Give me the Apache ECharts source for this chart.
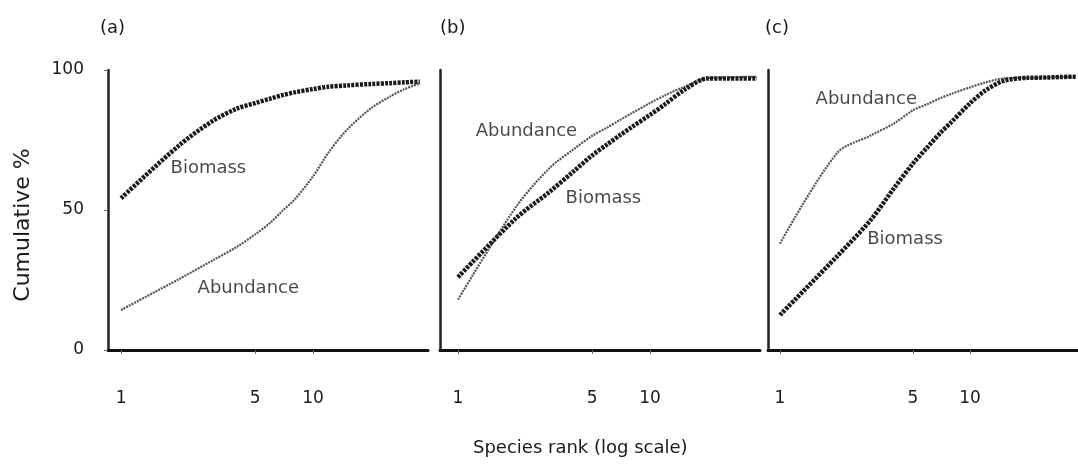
<!DOCTYPE html>
<html><head><meta charset="utf-8">
<script src="https://cdn.jsdelivr.net/npm/echarts@6/dist/echarts.min.js"></script>
<style>html,body{margin:0;padding:0;background:#fff}#c{width:1078px;height:464px}</style>
</head><body><div id="c"></div>
<script>
// Species rank (shared by all panels)
const ranks = [1, 2, 3, 4, 5, 6, 7, 8, 10, 12, 15, 20, 25, 30, 36];
// Panel (a)
const abundanceA = [14.3, 25.3, 32, 36.8, 41.3, 45.5, 50, 53.7, 62, 70.4, 78.6, 86.3, 90.4, 93.2, 95.2];
const biomassA   = [54.2, 73, 81.8, 86.2, 88.2, 89.8, 91.1, 92, 93.2, 94, 94.5, 95, 95.3, 95.6, 95.8];
// Panel (b)
const abundanceB = [18, 51, 65, 71.7, 76.5, 79.5, 82.2, 84.5, 88.2, 91, 93.9, 97.1, 97.3, 97.5, 97.6];
const biomassB   = [26, 47, 56.5, 63.8, 69.5, 73.5, 76.8, 79.5, 84, 87.8, 92.8, 97, 97, 97, 97];
// Panel (c)
const abundanceC = [38, 70.4, 76.6, 81, 85.6, 87.9, 90, 91.5, 93.8, 95.5, 97, 97.2, 97.3, 97.5, 97.6];
const biomassC   = [12.5, 33.5, 46.4, 58, 66.5, 72.6, 77.6, 81.5, 88.1, 92.6, 96.1, 97.2, 97.3, 97.5, 97.6];

const panelLabels = ['(a)', '(b)', '(c)'];
const xTicks = [1, 5, 10];
const xName = 'Species rank (log scale)';
const yName = 'Cumulative %';
// curve annotations: [text, rank, cumulative %]
const curveLabelsA = [['Biomass', 1.8, 65], ['Abundance', 2.49, 22]];
const curveLabelsB = [['Abundance', 1.23, 78], ['Biomass', 3.61, 54]];
const curveLabelsC = [['Abundance', 1.53, 89.5], ['Biomass', 2.86, 39.5]];
// x-axis extents (rank)
const xRangeA = [0.855, 39.7];
const xRangeB = [0.806, 37.4];
const xRangeC = [0.865, 37];

const panels = [
  {ab: abundanceA, bi: biomassA, lab: curveLabelsA, xr: xRangeA, grid: {left: 108, top: 70, width: 320, height: 280}},
  {ab: abundanceB, bi: biomassB, lab: curveLabelsB, xr: xRangeB, grid: {left: 440, top: 70, width: 320, height: 280}},
  {ab: abundanceC, bi: biomassC, lab: curveLabelsC, xr: xRangeC, grid: {left: 768, top: 70, width: 310, height: 280}}
];

const FONT = 'DejaVu Sans';
const TXT = '#1a1a1a';

const chart = echarts.init(document.getElementById('c'));
const option = {
  animation: false,
  backgroundColor: '#fff',
  title: panelLabels.map((t, i) => ({
    text: t, left: [100, 440, 765][i], top: 19, padding: 0,
    textStyle: {fontSize: 18, fontWeight: 'normal', fontFamily: FONT, color: TXT}
  })).concat([{
    text: xName, left: 473, top: 439, padding: 0,
    textStyle: {fontSize: 18, fontWeight: 'normal', fontFamily: FONT, color: TXT}
  }]),
  graphic: [{
    type: 'text', x: 23, y: 225, rotation: Math.PI / 2,
    style: {text: yName, fontSize: 22, fontFamily: FONT, fill: TXT, align: 'center', verticalAlign: 'middle'}
  }],
  grid: panels.map(p => p.grid),
  xAxis: panels.map((p, i) => ({
    type: 'log', logBase: 10, gridIndex: i, min: p.xr[0], max: p.xr[1],
    axisLine: {show: true, onZero: false, lineStyle: {color: '#111', width: 3}},
    axisTick: {show: true, customValues: xTicks, length: 4, lineStyle: {color: '#666', width: 1}},
    axisLabel: {show: true, customValues: xTicks, margin: 40, fontSize: 17, fontFamily: FONT, color: TXT},
    splitLine: {show: false}, minorTick: {show: false}, minorSplitLine: {show: false}
  })),
  yAxis: panels.map((p, i) => ({
    type: 'value', gridIndex: i, min: 0, max: 100, interval: 50,
    axisLine: {show: true, lineStyle: {color: '#222', width: 2.5}},
    axisTick: {show: i === 0, length: 4, lineStyle: {color: '#666', width: 1}},
    axisLabel: {show: i === 0, margin: 24, fontSize: 17, fontFamily: FONT, color: TXT},
    splitLine: {show: false}
  })),
  series: panels.flatMap((p, i) => [
    {
      type: 'line', name: 'Abundance', xAxisIndex: i, yAxisIndex: i,
      data: ranks.map((r, j) => [r, p.ab[j]]),
      showSymbol: false, smooth: 0.3,
      lineStyle: {color: '#555', width: 2.2, type: [2, 1]}, silent: true
    },
    {
      type: 'line', name: 'Biomass', xAxisIndex: i, yAxisIndex: i,
      data: ranks.map((r, j) => [r, p.bi[j]]),
      showSymbol: false, smooth: 0.3,
      lineStyle: {color: '#1a1a1a', width: 4.5, type: [3, 1.2]}, silent: true
    },
    {
      type: 'scatter', xAxisIndex: i, yAxisIndex: i, silent: true,
      symbolSize: 1, itemStyle: {color: 'transparent'},
      data: p.lab.map(([n, r, v]) => ({name: n, value: [r, v]})),
      label: {show: true, position: 'right', distance: 0, formatter: '{b}', fontSize: 18, fontFamily: FONT, color: TXT}
    }
  ])
};
chart.setOption(option);
</script>
</body></html>
